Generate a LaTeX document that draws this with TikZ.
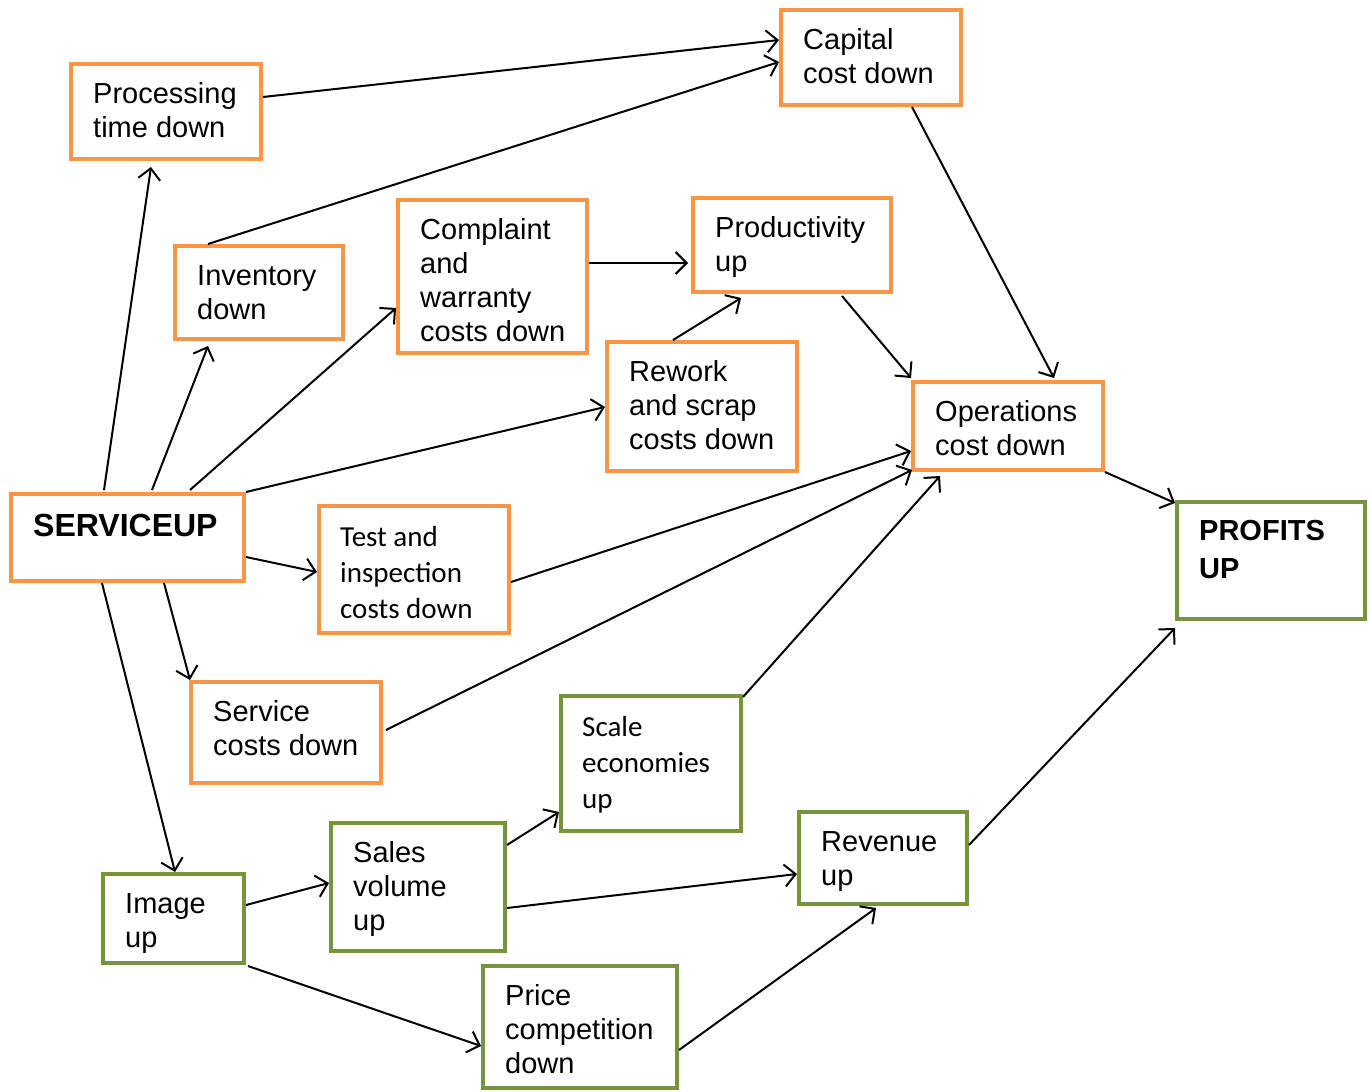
\documentclass[tikz,border=0pt]{standalone}
\usepackage{fontspec}
\setmainfont{Liberation Sans}
\newfontfamily\calfont{Carlito}
\usetikzlibrary{arrows.meta}
\definecolor{boxorange}{HTML}{F79646}
\definecolor{boxgreen}{HTML}{77933C}
\newcommand\relp[3]{([shift={(#2,#3)}]#1.north west)}
\begin{document}
\begin{tikzpicture}[x=1pt,y=-1pt,
  obox/.style={draw=boxorange,line width=4pt,rectangle,inner sep=0,outer sep=0,anchor=north west},
  gbox/.style={draw=boxgreen,line width=4pt,rectangle,inner sep=0,outer sep=0,anchor=north west},
  arialtxt/.style={anchor=north west,align=left,inner sep=0,font=\fontsize{29}{34}\selectfont},
  caltxt/.style={anchor=north west,align=left,inner sep=0,font=\calfont\fontsize{29}{36}\selectfont},
  conn/.style={line width=2pt,-{Straight Barb[length=11pt,width=22pt,line width=2pt]}}]
\useasboundingbox (0,0) rectangle (1369,1092);
% boxes: name, x, y, w, h
\newcommand\mkbox[6]{\node[#6,minimum width=#4,minimum height=#5] (#1) at (#2,#3) {};}
\mkbox{proc}{71}{64}{190}{95}{obox}
\mkbox{cap}{781}{10}{180}{95}{obox}
\mkbox{inv}{175}{246}{168}{93}{obox}
\mkbox{comp}{398}{200}{189}{153}{obox}
\mkbox{prod}{693}{198}{198}{94}{obox}
\mkbox{rew}{607}{342}{190}{129}{obox}
\mkbox{ops}{913}{382}{190}{88}{obox}
\mkbox{svc}{11}{494}{233}{87}{obox}
\mkbox{test}{319}{506}{190}{127}{obox}
\mkbox{scost}{191}{682}{190}{101}{obox}
\mkbox{prof}{1177}{502}{188}{117}{gbox}
\mkbox{scale}{561}{696}{180}{135}{gbox}
\mkbox{rev}{799}{812}{168}{92}{gbox}
\mkbox{sales}{331}{823}{174}{128}{gbox}
\mkbox{img}{103}{874}{141}{89}{gbox}
\mkbox{price}{483}{966}{194}{122}{gbox}
% texts
\node[arialtxt] (proct) at \relp{proc}{22}{15} {\strut Processing\\time down};
\node[arialtxt] (capt) at \relp{cap}{22}{15} {\strut Capital\\cost down};
\node[arialtxt] (invt) at \relp{inv}{22}{15} {\strut Inventory\\down};
\node[arialtxt] (compt) at \relp{comp}{22}{15} {\strut Complaint\\and\\warranty\\costs down};
\node[arialtxt] (prodt) at \relp{prod}{22}{15} {\strut Productivity\\up};
\node[arialtxt] (rewt) at \relp{rew}{22}{15} {\strut Rework\\and scrap\\costs down};
\node[arialtxt] (opst) at \relp{ops}{22}{15} {\strut Operations\\cost down};
\node[anchor=north west,align=left,inner sep=0,font=\bfseries\fontsize{32}{38}\selectfont] (svct) at \relp{svc}{22}{16} {\strut SERVICEUP};
\node[caltxt] (testt) at \relp{test}{21}{15} {\strut Test and\\inspection\\costs down};
\node[arialtxt] (scostt) at \relp{scost}{22}{15} {\strut Service\\costs down};
\node[anchor=north west,align=left,inner sep=0,font=\bfseries\fontsize{29}{38}\selectfont] (proft) at \relp{prof}{22}{12} {\strut PROFITS\\UP};
\node[caltxt] (scalet) at \relp{scale}{21}{15} {\strut Scale\\economies\\up};
\node[arialtxt] (revt) at \relp{rev}{22}{15} {\strut Revenue\\up};
\node[arialtxt] (salest) at \relp{sales}{22}{15} {\strut Sales\\volume\\up};
\node[arialtxt] (imgt) at \relp{img}{22}{15} {\strut Image\\up};
\node[arialtxt] (pricet) at \relp{price}{22}{15} {\strut Price\\competition\\down};
% connectors
\draw[conn] \relp{svc}{93}{-4} -- \relp{proc}{80}{103};
\draw[conn] \relp{proc}{192}{33} -- \relp{cap}{-2}{30};
\draw[conn] \relp{inv}{33}{-2} -- \relp{cap}{-2}{52};
\draw[conn] \relp{svc}{141}{-4} -- \relp{inv}{33}{100};
\draw[conn] \relp{svc}{179}{-4} -- \relp{comp}{-2}{108};
\draw[conn] \relp{svc}{235}{-2} -- \relp{rew}{-2}{65};
\draw[conn] \relp{comp}{191}{63} -- \relp{prod}{-5}{65};
\draw[conn] \relp{rew}{66}{-2} -- \relp{prod}{48}{100};
\draw[conn] \relp{prod}{149}{98} -- \relp{ops}{-2}{-4};
\draw[conn] \relp{cap}{131}{97} -- \relp{ops}{141}{-4};
\draw[conn] \relp{svc}{235}{63} -- \relp{test}{-2}{66};
\draw[conn] \relp{test}{192}{76} -- \relp{ops}{-2}{69};
\draw[conn] \relp{svc}{153}{89} -- \relp{scost}{-1}{-2};
\draw[conn] \relp{scost}{195}{48} -- \relp{ops}{-1}{88};
\draw[conn] \relp{scale}{182}{1} -- \relp{ops}{27}{94};
\draw[conn] \relp{ops}{192}{90} -- \relp{prof}{-2}{1};
\draw[conn] \relp{svc}{91}{89} -- \relp{img}{72}{-2};
\draw[conn] \relp{img}{143}{31} -- \relp{sales}{-2}{60};
\draw[conn] \relp{img}{145}{92} -- \relp{price}{-2}{80};
\draw[conn] \relp{sales}{176}{22} -- \relp{scale}{-2}{116};
\draw[conn] \relp{sales}{176}{85} -- \relp{rev}{-2}{62};
\draw[conn] \relp{price}{196}{84} -- \relp{rev}{77}{96};
\draw[conn] \relp{rev}{170}{33} -- \relp{prof}{-2}{126};
\end{tikzpicture}
\end{document}
